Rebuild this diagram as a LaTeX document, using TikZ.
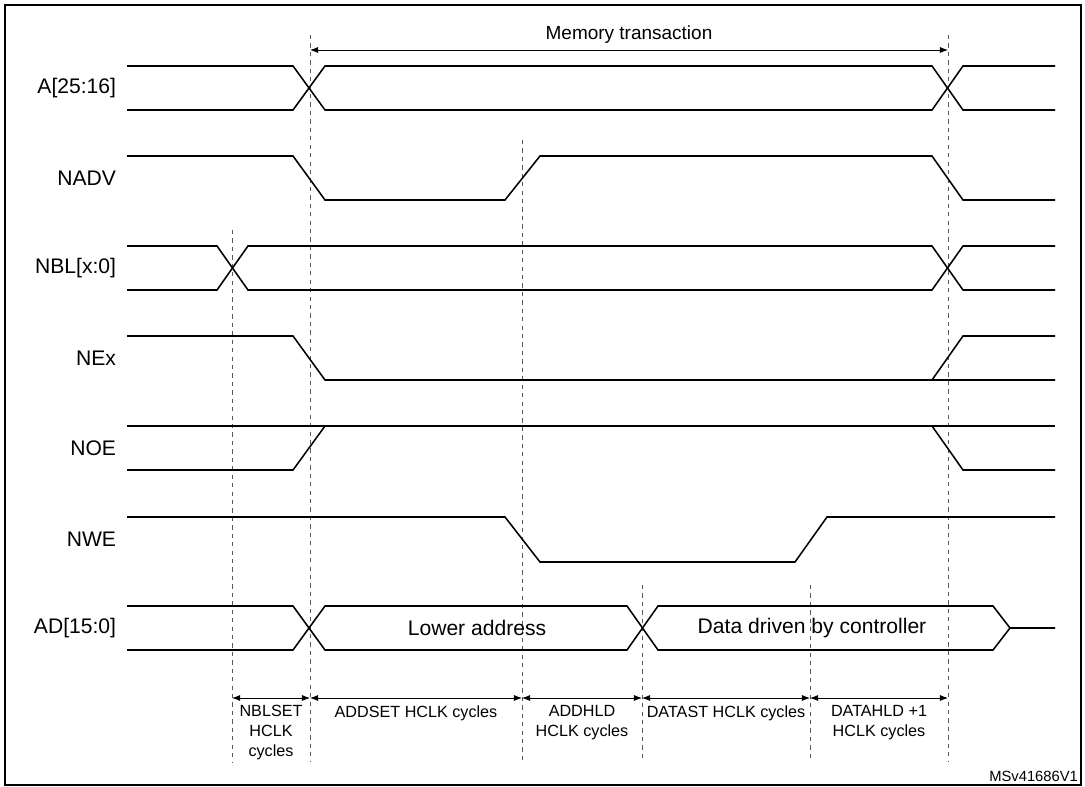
\documentclass[tikz,border=0pt]{standalone}
\usepackage{fontspec}
\setmainfont{Liberation Sans}
\usetikzlibrary{arrows.meta,positioning}
\begin{document}
\begin{tikzpicture}[x=0.025cm, y=-0.025cm, >=Latex,
    wave/.style={line width=1.1pt},
    guide/.style={dashed, gray!70!black, line width=0.6pt},
    span/.style={<->, line width=0.6pt},
    sig/.style={anchor=east, font=\fontsize{15}{17}\selectfont},
    cyc/.style={anchor=north, align=center, font=\fontsize{11.5}{14}\selectfont, inner sep=1pt}]
    \useasboundingbox (0,0) rectangle (1085,787);

    % Cadre
    \draw[line width=1pt] (5,5) rectangle (1081,785);

    % Noms des signaux
    \node[sig] (lA) at (121,88) {A[25:16]};
    \node[sig] (lNADV) at (121,178) {NADV};
    \node[sig] (lNBL) at (121,268) {NBL[x:0]};
    \node[sig] (lNEx) at (121,358) {NEx};
    \node[sig] (lNOE) at (121,448) {NOE};
    \node[sig] (lNWE) at (121,539) {NWE};
    \node[sig] (lAD) at (121,628) {AD[15:0]};

    % Lignes de repere
    \coordinate (t0) at (232,230); \coordinate (b0) at (232,762);
    \coordinate (t1) at (310,35);  \coordinate (b1) at (310,762);
    \coordinate (t2) at (522,140); \coordinate (b2) at (522,762);
    \coordinate (t3) at (642,585); \coordinate (b3) at (642,762);
    \coordinate (t4) at (810,585); \coordinate (b4) at (810,762);
    \coordinate (t5) at (948,35);  \coordinate (b5) at (948,762);
    \foreach \i in {0,...,5} \draw[guide] (t\i) -- (b\i);

    % A[25:16]
    \draw[wave] (127,66) -- (293,66) -- (325,110) -- (932,110) -- (963,66) -- (1055,66);
    \draw[wave] (127,110) -- (293,110) -- (325,66) -- (932,66) -- (963,110) -- (1055,110);
    % NADV
    \draw[wave] (127,156) -- (293,156) -- (325,200) -- (505,200) -- (540,156) -- (932,156) -- (963,200) -- (1055,200);
    % NBL[x:0]
    \draw[wave] (127,246) -- (217,246) -- (248,290) -- (932,290) -- (963,246) -- (1055,246);
    \draw[wave] (127,290) -- (217,290) -- (248,246) -- (932,246) -- (963,290) -- (1055,290);
    % NEx
    \draw[wave] (127,336) -- (293,336) -- (325,380) -- (1055,380);
    \draw[wave] (932,380) -- (963,336) -- (1055,336);
    % NOE
    \draw[wave] (127,470) -- (293,470) -- (325,426);
    \draw[wave] (127,426) -- (1055,426);
    \draw[wave] (932,426) -- (963,470) -- (1055,470);
    % NWE
    \draw[wave] (127,517) -- (505,517) -- (540,562) -- (795,562) -- (827,517) -- (1055,517);
    % AD[15:0]
    \draw[wave] (127,606) -- (293,606) -- (325,650) -- (627,650) -- (658,606) -- (993,606) -- (1010,628) -- (1055,628);
    \draw[wave] (127,650) -- (293,650) -- (325,606) -- (627,606) -- (658,650) -- (993,650) -- (1010,628);
    \node[font=\fontsize{15}{17}\selectfont] (lower) at (477,628) {Lower address};
    \node[font=\fontsize{15}{17}\selectfont] (data) at (812,628) {Data driven by controller};

    % Transaction memoire
    \coordinate (m1) at (310,50); \coordinate (m2) at (948,50);
    \draw[span] (m1) -- (m2) node[midway, above=1pt, font=\fontsize{13.5}{15}\selectfont] {Memory transaction};

    % Durees
    \coordinate (a0) at (232,698); \coordinate (a1) at (310,698);
    \coordinate (a2) at (522,698); \coordinate (a3) at (642,698);
    \coordinate (a4) at (810,698); \coordinate (a5) at (948,698);
    \draw[span] (a0) -- (a1) node[midway, below=4pt, cyc] {NBLSET\\HCLK\\cycles};
    \draw[span] (a1) -- (a2) node[midway, below=4pt, cyc] {ADDSET HCLK cycles};
    \draw[span] (a2) -- (a3) node[midway, below=4pt, cyc] {ADDHLD\\HCLK cycles};
    \draw[span] (a3) -- (a4) node[midway, below=4pt, cyc] {DATAST HCLK cycles};
    \draw[span] (a4) -- (a5) node[midway, below=4pt, cyc] {DATAHLD +1\\HCLK cycles};

    \node[anchor=south east, font=\fontsize{10.5}{12}\selectfont, inner sep=2pt] (ref) at (1081,785) {MSv41686V1};
\end{tikzpicture}
\end{document}
